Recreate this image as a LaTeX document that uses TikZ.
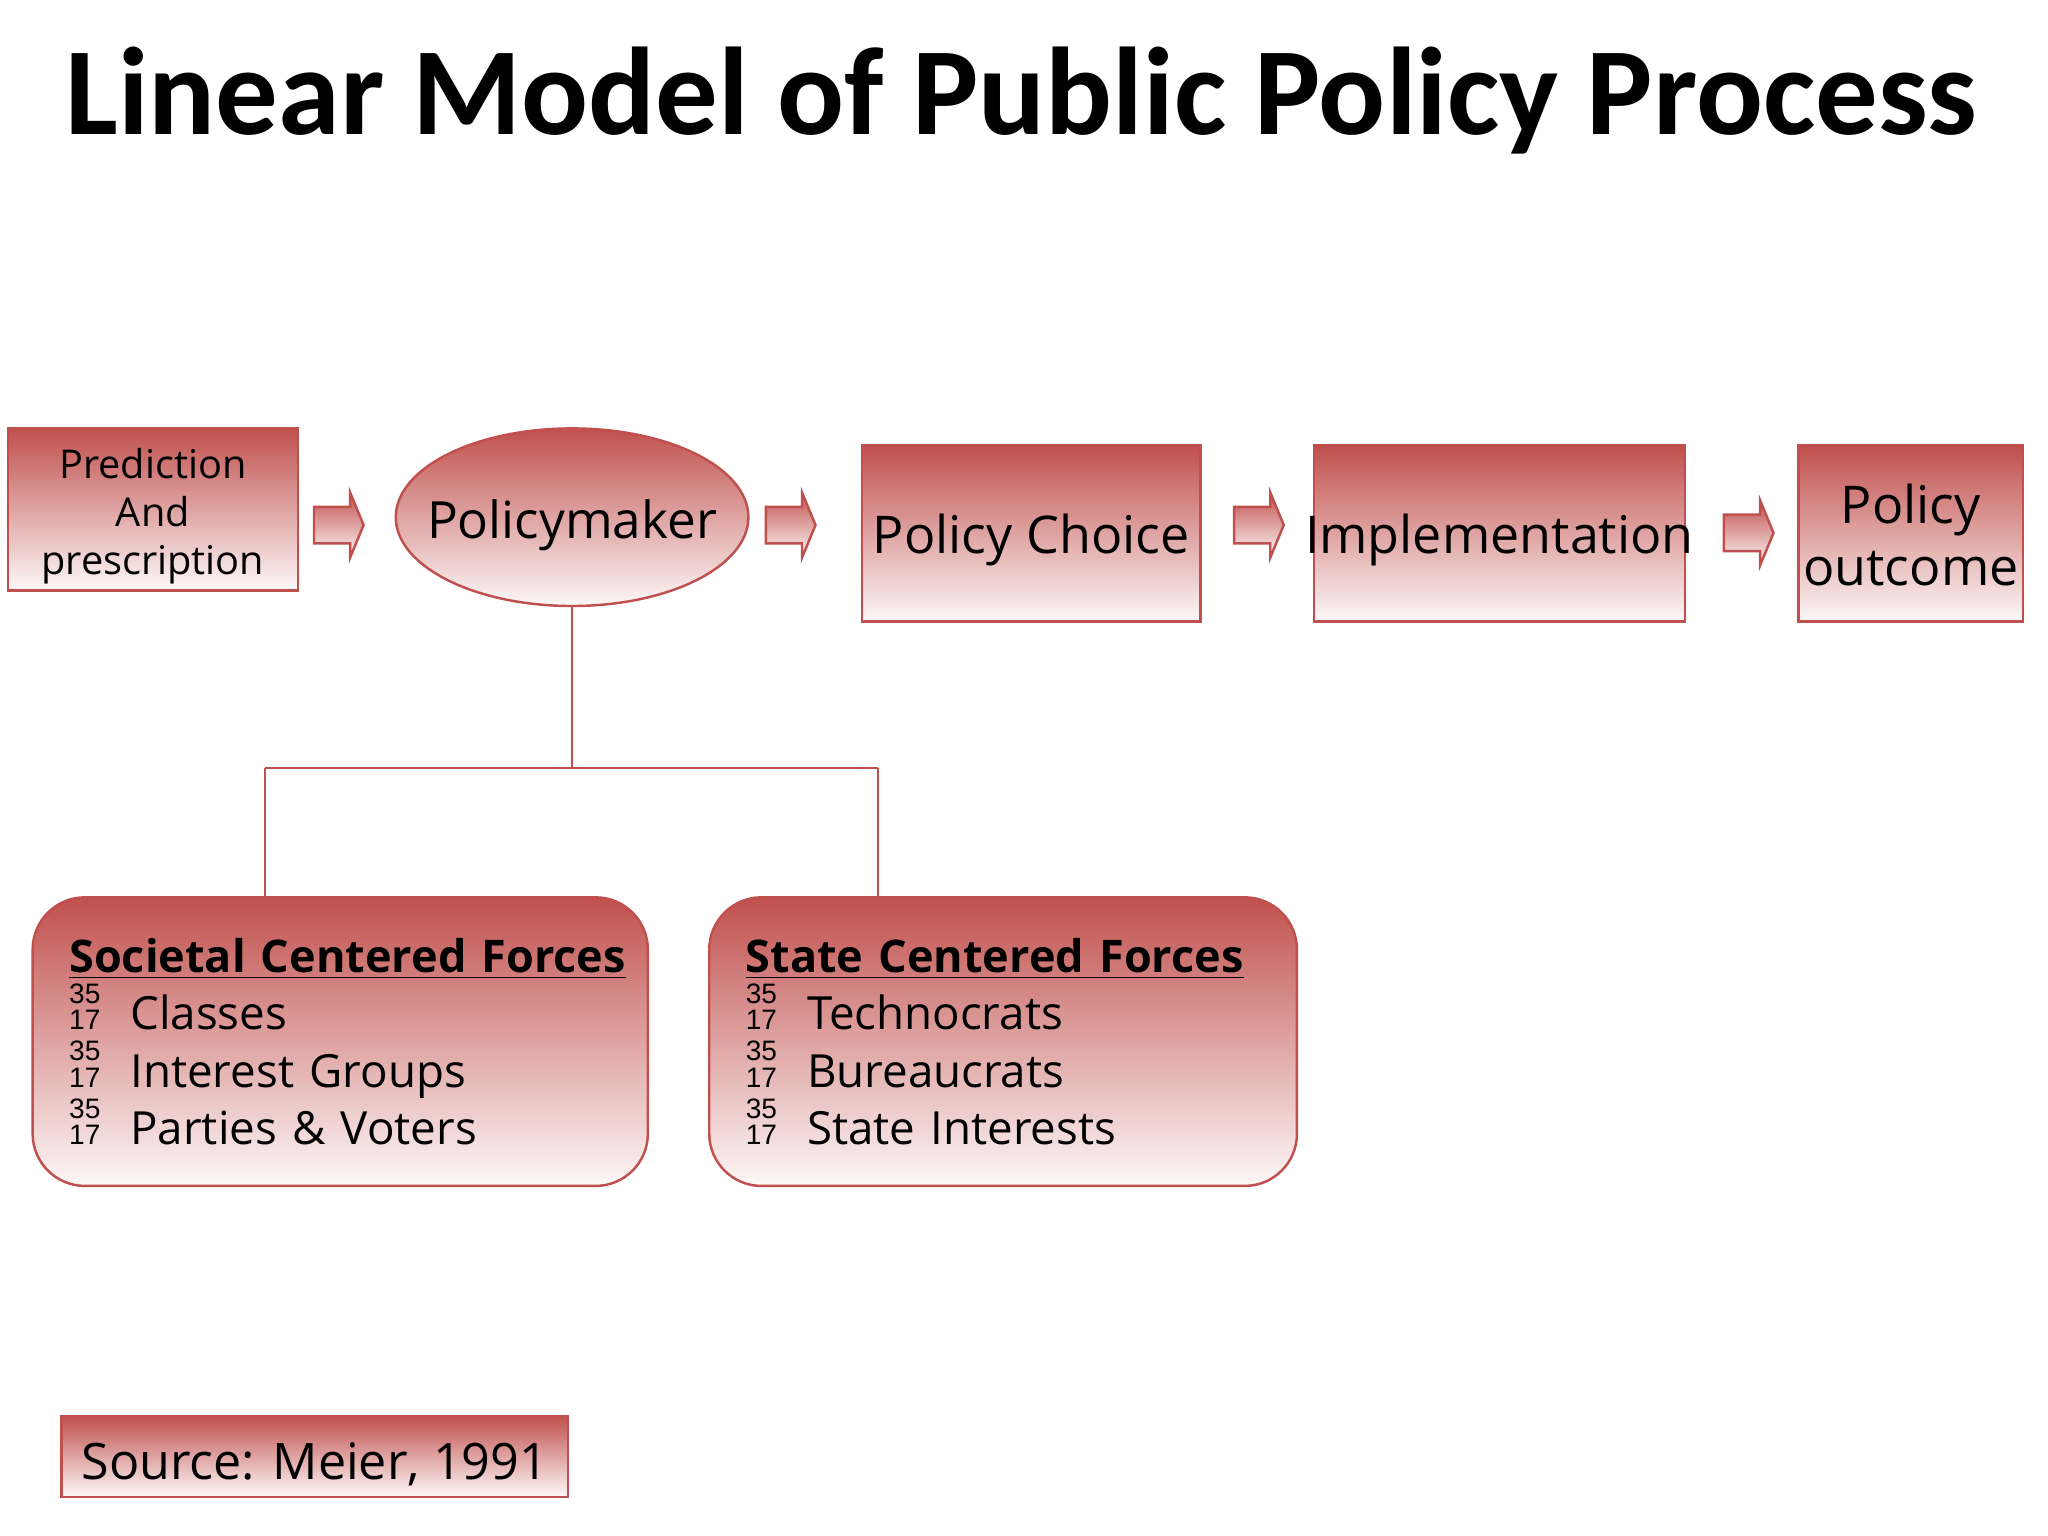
\documentclass[tikz,border=0pt]{standalone}
\usepackage{fontspec}
\setmainfont{Open Sans}
\newfontfamily\titlefont{Carlito}
\newfontfamily\bulfont{Liberation Sans}
\usetikzlibrary{calc,shapes.geometric,shapes.arrows}
\definecolor{ppred}{RGB}{192,80,77}
\newcommand{\numbul}{\makebox[17.4pt][l]{\bulfont\fontsize{8}{9}\selectfont\rlap{\smash{\raisebox{7.5pt}{35}}}17}}
\newcommand{\forcehead}[1]{\underline{\fontsize{12.8}{16.4}\selectfont\textbf{#1}}}
\tikzset{
	redfill/.style={draw=ppred, line width=0.7pt, top color=ppred, bottom color=ppred!4},
	textdrop/.style={execute at begin node={\rule{0pt}{#1}}},
	stagebox/.style={redfill, rectangle, inner sep=0pt, align=center, font={\fontsize{14.8}{17.6}\selectfont}, textdrop=14.9pt},
	forcebox/.style={redfill, rectangle, rounded corners=0.522cm, inner xsep=0.366cm, inner ysep=0pt, align=left, minimum height=2.886cm, font={\fontsize{13}{16.4}\selectfont}},
	flowarrow/.style={redfill, single arrow, minimum height=0.496cm, minimum width=0pt, inner xsep=0pt, inner ysep=0.17cm, single arrow head extend=0.144cm, single arrow tip angle=135},
	link/.style={draw=ppred, line width=0.6pt}
}

\begin{document}
\begin{tikzpicture}[x=0.013061cm, y=-0.013061cm]
			%%%%% START %%%%%
			\useasboundingbox (0,0) rectangle (1568,1176);

			\node[font={\titlefont\bfseries\fontsize{35.5}{40}\selectfont}, anchor=base] (title) at (782,103) {Linear Model of Public Policy Process};

			\node[stagebox, minimum width=2.9cm, minimum height=1.62cm, font={\fontsize{11.3}{13.6}\selectfont}, textdrop=0pt] (pred) at (117,390) {\rule{0pt}{12.3pt}Prediction\\And\\prescription};
			\node[redfill, ellipse, inner sep=0pt, minimum width=3.526cm, minimum height=1.776cm, font={\fontsize{14.6}{17.6}\selectfont}] (pm) at (438,396) {\makebox[2.4cm]{\rule{0pt}{15.5pt}Policymaker}};
			\node[stagebox, minimum width=3.383cm, minimum height=1.763cm] (choice) at (789.5,408.5) {Policy Choice};
			\node[stagebox, minimum width=3.709cm, minimum height=1.763cm] (impl) at (1148,408.5) {\makebox[3.5cm]{Implementation}};
			\node[stagebox, minimum width=2.246cm, minimum height=1.763cm, textdrop=0pt] (outc) at (1463,408.5) {\rule{0pt}{12pt}Policy\\outcome};

			\node[flowarrow] (arr1) at (256.5,402) {};
			\node[flowarrow] (arr2) at (602.5,402) {};
			\node[flowarrow] (arr3) at (961,402) {};
			\node[flowarrow] (arr4) at (1336,408) {};

			\node[forcebox, minimum width=6.152cm, text width=5.42cm] (soc) at (260.5,797.5) {\forcehead{Societal Centered Forces}\\\numbul Classes\\\numbul Interest Groups\\\numbul Parties \& Voters};
			\node[forcebox, minimum width=5.877cm, text width=5.145cm] (sta) at (768,797.5) {\forcehead{State Centered Forces}\\\numbul Technocrats\\\numbul Bureaucrats\\\numbul State Interests};

			\coordinate (jl) at (203,588);
			\coordinate (jr) at (672,588);
			\draw[link] (pm.south) -- (pm.south |- jl);
			\draw[link] (jl) -- (jr);
			\draw[link] (jl) -- (jl |- soc.north);
			\draw[link] (jr) -- (jr |- sta.north);

			\node[stagebox, minimum width=5.068cm, minimum height=0.81cm, font={\fontsize{14.3}{17}\selectfont}, textdrop=14.6pt] (src) at (241,1115) {Source: Meier, 1991};
			%%%%% END %%%%%
\end{tikzpicture}
\end{document}
